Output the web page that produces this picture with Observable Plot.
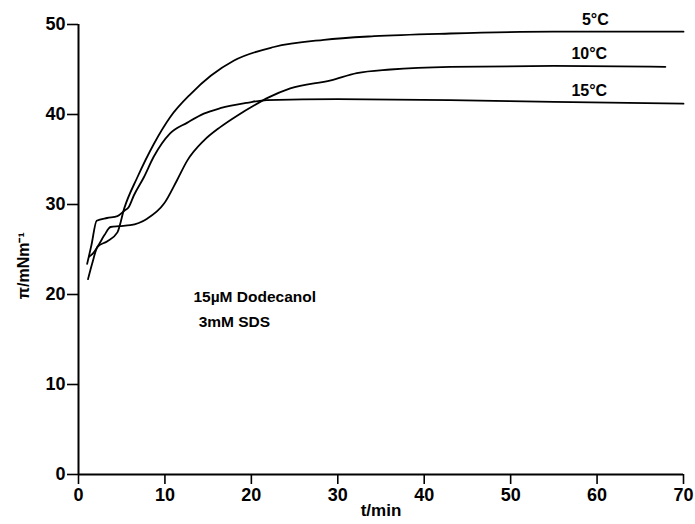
<!DOCTYPE html>
<html>
<head>
<meta charset="utf-8">
<script src="https://cdn.jsdelivr.net/npm/d3@7"></script>
<script src="https://cdn.jsdelivr.net/npm/@observablehq/plot@0.6"></script>
<style>
  html, body { margin: 0; padding: 0; background: #fff; }
  #chart { width: 695px; height: 524px; }
</style>
</head>
<body>
<div id="chart"></div>
<script>
// Series data: time (min) and surface pressure (mN/m)
const t5  = [1.1, 1.6, 2.2, 3.3, 4.5, 5.3, 6.8, 8.7, 10.6, 13.0, 15.3, 18.0, 22.6, 28.4, 34.2, 43.0, 55, 70];
const p5  = [21.7, 23.5, 25.3, 25.9, 26.9, 29.6, 33.0, 36.7, 39.7, 42.3, 44.3, 46.0, 47.5, 48.3, 48.7, 49.0, 49.2, 49.2];

const t10 = [1.2, 1.7, 2.2, 3.0, 3.7, 4.7, 6.0, 7.9, 9.9, 11.4, 12.6, 14.5, 16.4, 18.4, 20.3, 22.0, 24.5, 29.2, 32.2, 36.1, 43.0, 55, 67.9];
const p10 = [24.2, 24.6, 25.3, 26.6, 27.5, 27.6, 27.7, 28.4, 30.1, 32.7, 34.9, 37.1, 38.6, 39.9, 41.0, 41.9, 42.9, 43.8, 44.6, 45.0, 45.3, 45.4, 45.3];

const t15 = [1.0, 1.5, 2.1, 3.3, 4.5, 5.3, 5.8, 6.4, 7.55, 8.7, 10.6, 12.6, 14.5, 16.4, 19.5, 21.8, 30, 43, 55, 70];
const p15 = [23.4, 25.5, 28.2, 28.5, 28.7, 29.3, 29.7, 31.0, 33.0, 35.3, 37.9, 39.1, 40.1, 40.7, 41.3, 41.6, 41.7, 41.6, 41.4, 41.2];

const seriesNames = ["5°C", "10°C", "15°C"];
const labelTime = [59.8, 59.1, 59.1];
const labelLevel = [49.2, 45.4, 41.3];

const xTicks = [0, 10, 20, 30, 40, 50, 60, 70];
const yTicks = [0, 10, 20, 30, 40, 50];
const xLabel = "t/min";
const yLabel = "π/mNm⁻¹";
const yLabelAt = {t: -6.3, p: 23.2};
const noteLines = ["15µM Dodecanol", "3mM SDS"];
const noteTime = [13.3, 13.9];
const noteLevel = [19.7, 16.9];

const sets = [[t5, p5], [t10, p10], [t15, p15]];
const rows = sets.flatMap(([ts, ps], i) => ts.map((t, j) => ({series: seriesNames[i], t, p: ps[j]})));
const labels = seriesNames.map((s, i) => ({s, t: labelTime[i], p: labelLevel[i]}));
const notes = noteLines.map((s, i) => ({s, t: noteTime[i], p: noteLevel[i]}));

const font = "'Liberation Sans', Arial, Helvetica, sans-serif";

const chart = Plot.plot({
  width: 695,
  height: 524,
  marginLeft: 78,
  marginRight: 12,
  marginTop: 24,
  marginBottom: 50,
  x: {domain: [0, 70]},
  y: {domain: [0, 50]},
  style: {fontFamily: font, fontWeight: "bold", fontSize: "18px", color: "#000", background: "#fff"},
  marks: [
    Plot.axisX({ticks: xTicks, tickSize: 10, tickPadding: 4, label: null, fontSize: 18, fontWeight: "bold", strokeWidth: 1.6}),
    Plot.axisY({ticks: yTicks, tickSize: 11, tickPadding: 2, label: null, fontSize: 18, fontWeight: "bold", strokeWidth: 1.6}),
    Plot.ruleX([0], {strokeWidth: 2}),
    Plot.ruleY([0], {strokeWidth: 2}),
    Plot.line(rows, {x: "t", y: "p", z: "series", curve: "monotone-x", stroke: "#000", strokeWidth: 1.8}),
    Plot.text(labels, {x: "t", y: "p", text: "s", dy: -12, fontSize: 16, fontWeight: "bold", fill: "#000"}),
    Plot.text(notes, {x: "t", y: "p", text: "s", textAnchor: "start", fontSize: 15.5, fontWeight: "bold", fill: "#000"}),
    Plot.text([xLabel], {frameAnchor: "bottom", dy: 41, fontSize: 17, fontWeight: "bold", fill: "#000"}),
    Plot.text([yLabelAt], {x: "t", y: "p", text: () => yLabel, rotate: -90, fontSize: 16, fontWeight: "bold", fill: "#000"})
  ]
});
document.getElementById("chart").appendChild(chart);
</script>
</body>
</html>
